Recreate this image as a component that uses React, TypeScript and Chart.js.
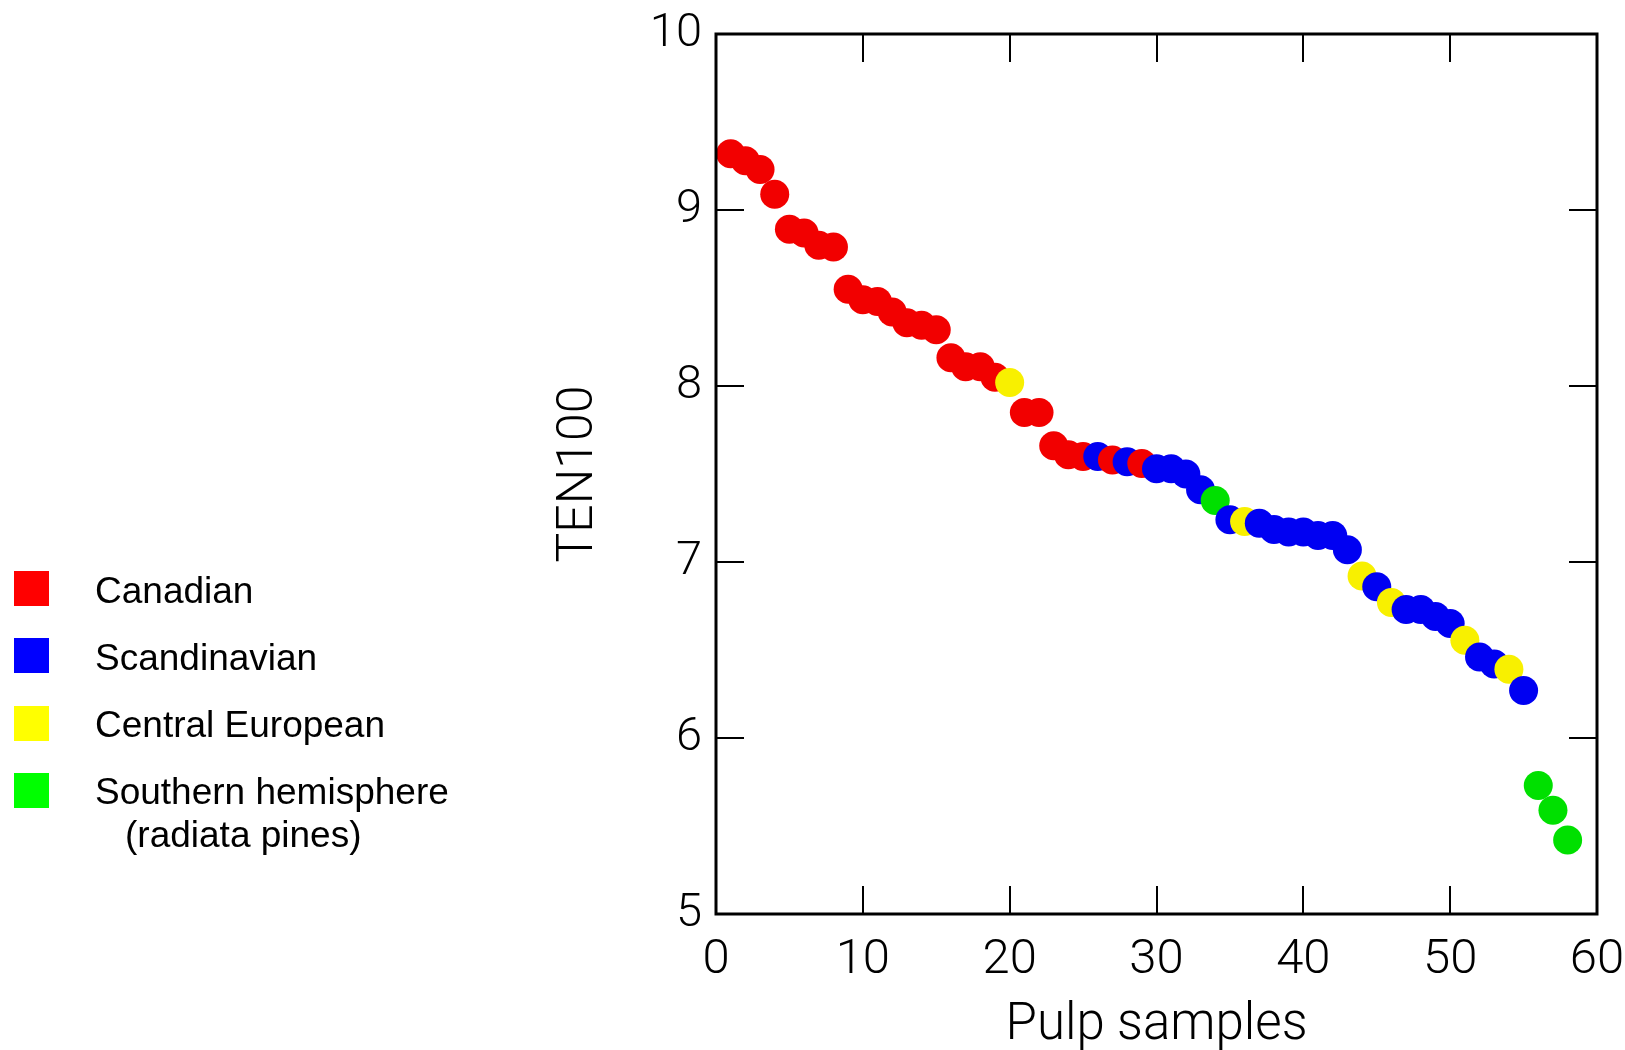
import { useEffect, useRef } from "react";
import { Chart, registerables } from "chart.js";

Chart.register(...registerables);

const categories = ["Canadian", "Scandinavian", "Central European", "Southern hemisphere"];
const categoryNotes = ["", "", "", "(radiata pines)"];
const legendColors = ["#ff0000", "#0000ff", "#ffff00", "#00ff00"];
const pointColors = ["#f20000", "#0000f2", "#f8f000", "#00e000"];

const sampleNumbers = [
  1, 2, 3, 4, 5, 6, 7, 8, 9, 10,
  11, 12, 13, 14, 15, 16, 17, 18, 19, 20,
  21, 22, 23, 24, 25, 26, 27, 28, 29, 30,
  31, 32, 33, 34, 35, 36, 37, 38, 39, 40,
  41, 42, 43, 44, 45, 46, 47, 48, 49, 50,
  51, 52, 53, 54, 55, 56, 57, 58,
];

const ten100 = [
  9.32, 9.28, 9.23, 9.09, 8.89, 8.87, 8.8, 8.79, 8.55, 8.49,
  8.48, 8.42, 8.36, 8.345, 8.32, 8.16, 8.11, 8.11, 8.05, 8.02,
  7.85, 7.85, 7.66, 7.61, 7.6, 7.6, 7.58, 7.57, 7.56, 7.53,
  7.53, 7.5, 7.41, 7.35, 7.24, 7.23, 7.22, 7.185, 7.17, 7.17,
  7.15, 7.15, 7.07, 6.92, 6.86, 6.77, 6.73, 6.73, 6.69, 6.65,
  6.555, 6.46, 6.42, 6.39, 6.27, 5.73, 5.59, 5.42,
];

// 0 Canadian, 1 Scandinavian, 2 Central European, 3 Southern hemisphere
const sampleGroup = [
  0, 0, 0, 0, 0, 0, 0, 0, 0, 0,
  0, 0, 0, 0, 0, 0, 0, 0, 0, 2,
  0, 0, 0, 0, 0, 1, 0, 1, 0, 1,
  1, 1, 1, 3, 1, 2, 1, 1, 1, 1,
  1, 1, 1, 2, 1, 2, 1, 1, 1, 1,
  2, 1, 1, 2, 1, 3, 3, 3,
];

const xTicks = [0, 10, 20, 30, 40, 50, 60];
const yTicks = [5, 6, 7, 8, 9, 10];

const axisFamily = "Roboto, 'Liberation Sans', Arial, sans-serif";
const axisWeight = "300" as any;

const framePlugin = {
  id: "frame",
  afterDatasetsDraw(chart: any) {
    const { ctx, chartArea } = chart;
    const { left, right, top, bottom } = chartArea;
    const xs = chart.scales.x;
    const ys = chart.scales.y;
    ctx.save();
    ctx.strokeStyle = "#000";
    ctx.lineWidth = 2;
    const len = 28;
    ctx.beginPath();
    xTicks.forEach((v) => {
      if (v === xs.min || v === xs.max) return;
      const px = Math.round(xs.getPixelForValue(v));
      ctx.moveTo(px, bottom);
      ctx.lineTo(px, bottom - len);
      ctx.moveTo(px, top);
      ctx.lineTo(px, top + len);
    });
    yTicks.forEach((v) => {
      if (v === ys.min || v === ys.max) return;
      const py = Math.round(ys.getPixelForValue(v));
      ctx.moveTo(left, py);
      ctx.lineTo(left + len, py);
      ctx.moveTo(right, py);
      ctx.lineTo(right - len, py);
    });
    ctx.stroke();
    ctx.lineWidth = 3;
    ctx.strokeRect(left, top, right - left, bottom - top);
    ctx.restore();
  },
};

const legendPlugin = {
  id: "sideLegend",
  afterDraw(chart: any) {
    const { ctx } = chart;
    ctx.save();
    ctx.font = '37px "Liberation Sans", Arial, sans-serif';
    ctx.textBaseline = "alphabetic";
    ctx.textAlign = "left";
    categories.forEach((name, i) => {
      ctx.fillStyle = legendColors[i];
      ctx.fillRect(14, Math.round(571 + i * 67.3), 35, 35);
      ctx.fillStyle = "#000";
      ctx.fillText(name, 95, 603 + i * 67);
      if (categoryNotes[i]) {
        ctx.fillText(categoryNotes[i], 125, 603 + i * 67 + 43);
      }
    });
    ctx.restore();
  },
};

const zeroPadding = (s: any) => {
  s.paddingTop = 0;
  s.paddingBottom = 0;
  s.paddingLeft = 0;
  s.paddingRight = 0;
};

export default function App() {
  const canvasRef = useRef<HTMLCanvasElement | null>(null);

  useEffect(() => {
    if (!canvasRef.current) return;
    const chart = new Chart(canvasRef.current, {
      type: "scatter",
      data: {
        datasets: [
          {
            label: "TEN100",
            data: sampleNumbers.map((x, i) => ({ x, y: ten100[i] })),
            pointBackgroundColor: sampleGroup.map((g) => pointColors[g]),
            pointBorderWidth: 0,
            pointRadius: 14.5,
            pointHoverRadius: 14.5,
            clip: false as any,
          },
        ],
      },
      options: {
        animation: false,
        responsive: false,
        events: [],
        layout: { padding: { top: 34, right: 28, left: 0, bottom: 0 } },
        plugins: {
          legend: { display: false },
          tooltip: { enabled: false },
        },
        scales: {
          x: {
            type: "linear",
            position: "bottom",
            min: 0,
            max: 60,
            afterBuildTicks: (s: any) => {
              s.ticks = xTicks.map((v) => ({ value: v }));
            },
            afterFit: (s: any) => {
              s.height = 136;
              zeroPadding(s);
            },
            grid: { display: false, drawTicks: false },
            border: { display: false },
            ticks: {
              color: "#000",
              padding: 17,
              maxRotation: 0,
              autoSkip: false,
              font: { family: axisFamily, size: 49, weight: axisWeight },
            },
            title: {
              display: true,
              text: "Pulp samples",
              color: "#000",
              padding: { top: 0, bottom: 0 },
              font: { family: axisFamily, size: 51, lineHeight: 0.92, weight: axisWeight },
            },
          },
          y: {
            type: "linear",
            min: 5,
            max: 10,
            afterBuildTicks: (s: any) => {
              s.ticks = yTicks.map((v) => ({ value: v }));
            },
            afterFit: (s: any) => {
              s.width = 716;
              zeroPadding(s);
            },
            grid: { display: false, drawTicks: false },
            border: { display: false },
            ticks: {
              color: "#000",
              padding: 14,
              font: { family: axisFamily, size: 47, weight: axisWeight },
            },
            title: {
              display: true,
              text: "TEN100",
              color: "#000",
              padding: { top: 554, bottom: 0 },
              font: { family: axisFamily, size: 50, lineHeight: 1, weight: axisWeight },
            },
          },
        },
      },
      plugins: [framePlugin, legendPlugin],
    });
    return () => chart.destroy();
  }, []);

  return (
    <div style={{ position: "fixed", left: 0, top: 0, width: 1625, height: 1050, background: "#fff" }}>
      <canvas ref={canvasRef} width={1625} height={1050} style={{ display: "block" }} />
    </div>
  );
}
